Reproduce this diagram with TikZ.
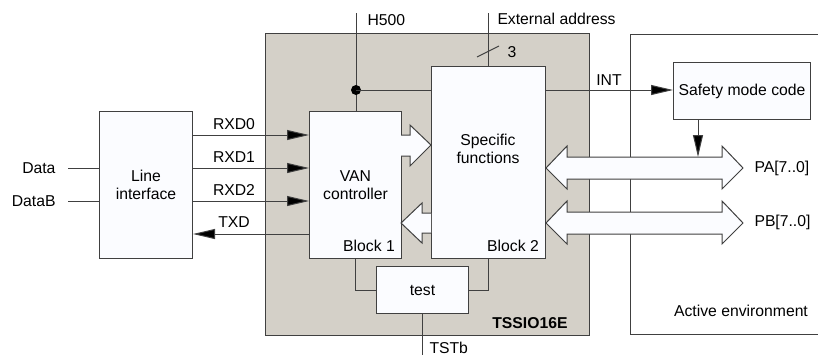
\documentclass[tikz,border=0pt]{standalone}
\usepackage{fontspec}
\setmainfont{Liberation Sans}
\usetikzlibrary{arrows.meta}
\definecolor{chipgray}{HTML}{D4D0C8}
\definecolor{boxfill}{HTML}{FBFCFF}
\definecolor{linecol}{HTML}{404040}
\begin{document}
\begin{tikzpicture}[x=0.75pt,y=-0.75pt,
  line width=0.75pt,
  every node/.style={font=\fontsize{11.8}{13.8}\selectfont, inner sep=0pt},
  box/.style={draw=linecol, fill=boxfill, anchor=north west, align=center},
  wire/.style={draw=linecol},
  arr/.style={draw=linecol, -{Triangle[length=16.5pt,width=7.5pt,fill=black]}},
  hollow/.style={draw=linecol, fill=boxfill, line join=miter}]
\useasboundingbox (0,0) rectangle (818,355);
% chip area
\node[draw=linecol, fill=chipgray, anchor=north west, minimum width=243pt, minimum height=226.5pt] (chip) at (265,33) {};
\node[anchor=south east, font=\fontsize{11.8}{13.8}\selectfont\bfseries] (chipname) at (568,329) {TSSIO16E};
% active environment
\coordinate (ae1) at (818,34);
\coordinate (ae2) at (630,34);
\coordinate (ae3) at (630,334);
\coordinate (ae4) at (818,334);
\draw[wire] (ae1) -- (ae2) -- (ae3) -- (ae4);
\node (aetext) at (741,311) {Active environment};
% boxes
\node[box, minimum width=69.75pt, minimum height=110.25pt] (li) at (99,111) {Line\\interface};
\node[box, minimum width=69pt, minimum height=110.25pt] (van) at (309,111) {VAN\\controller};
\node[box, minimum width=85.5pt, minimum height=144pt] (sf) at (431,66) {};
\node[align=center] (sftext) at (488,149) {Specific\\functions};
\node[box, minimum width=69pt, minimum height=35.25pt] (test) at (376,266) {test};
\node[box, minimum width=102.75pt, minimum height=42.75pt] (safety) at (673,62) {Safety mode code};
\node[anchor=south east] (b1) at ([xshift=-5pt,yshift=5pt]van.south east) {Block 1};
\node[anchor=south east] (b2) at ([xshift=-5pt,yshift=5pt]sf.south east) {Block 2};
% hollow arrows between blocks
\draw[hollow] (401,135) -- (410,135) -- (410,125) -- (431,145) -- (410,166) -- (410,156) -- (401,156);
\draw[hollow] (431,213) -- (422,213) -- (422,203) -- (401,223) -- (422,243) -- (422,233) -- (431,233);
% port buses
\draw[hollow] (546,168) -- (567,146) -- (567,157) -- (722,157) -- (722,146) -- (743,168) -- (722,189) -- (722,179) -- (567,179) -- (567,189) -- cycle;
\draw[hollow] (546,223) -- (567,201) -- (567,212) -- (722,212) -- (722,201) -- (743,223) -- (722,244) -- (722,234) -- (567,234) -- (567,244) -- cycle;
\node[anchor=west] (pa) at (754,168) {PA[7..0]};
\node[anchor=west] (pb) at (754,222) {PB[7..0]};
% line interface inputs
\node[anchor=east] (data) at (56,168) {Data};
\node[anchor=east] (datab) at (56,201) {DataB};
\draw[wire] ([xshift=9pt]data.east) -- (li.west |- data.east);
\draw[wire] ([xshift=9pt]datab.east) -- (li.west |- datab.east);
% serial lines
\draw[arr] (li.east |- 0,135) -- (van.west |- 0,135);
\draw[arr] (li.east |- 0,168) -- (van.west |- 0,168);
\draw[arr] (li.east |- 0,201) -- (van.west |- 0,201);
\draw[arr] (van.west |- 0,234) -- (li.east |- 0,234);
\node (rxd0) at (234,124) {RXD0};
\node (rxd1) at (234,157) {RXD1};
\node (rxd2) at (234,190) {RXD2};
\node (txd) at (234,222) {TXD};
% H500
\coordinate (h500top) at (356,13);
\coordinate (dot) at (356,90);
\draw[wire] (h500top) -- (h500top |- van.north);
\fill[black] (dot) circle (3.75pt);
\draw[wire] (dot) -- (sf.west |- dot);
\node[anchor=west] (h500) at (367,20) {H500};
% external address
\coordinate (extop) at (488,13);
\draw[wire] (extop) -- (extop |- sf.north);
\draw[wire] (477,57) -- (499,46);
\node (three) at (512,52) {3};
\node[anchor=west] (ext) at (497,19) {External address};
% INT
\draw[arr] (sf.east |- dot) -- (safety.west |- dot);
\node (int) at (609,80) {INT};
\coordinate (patop) at (698,157);
\draw[arr] (safety.south -| patop) -- (patop);
% test connections
\draw[wire] (van.south) -- (van.south |- test.west) -- (test.west);
\draw[wire] (sf.south) -- (sf.south |- test.east) -- (test.east);
\coordinate (tstbot) at (422,355);
\draw[wire] (test.south) -- (test.south |- tstbot);
\node[anchor=base west] (tstb) at (429,353) {TSTb};
\end{tikzpicture}
\end{document}
